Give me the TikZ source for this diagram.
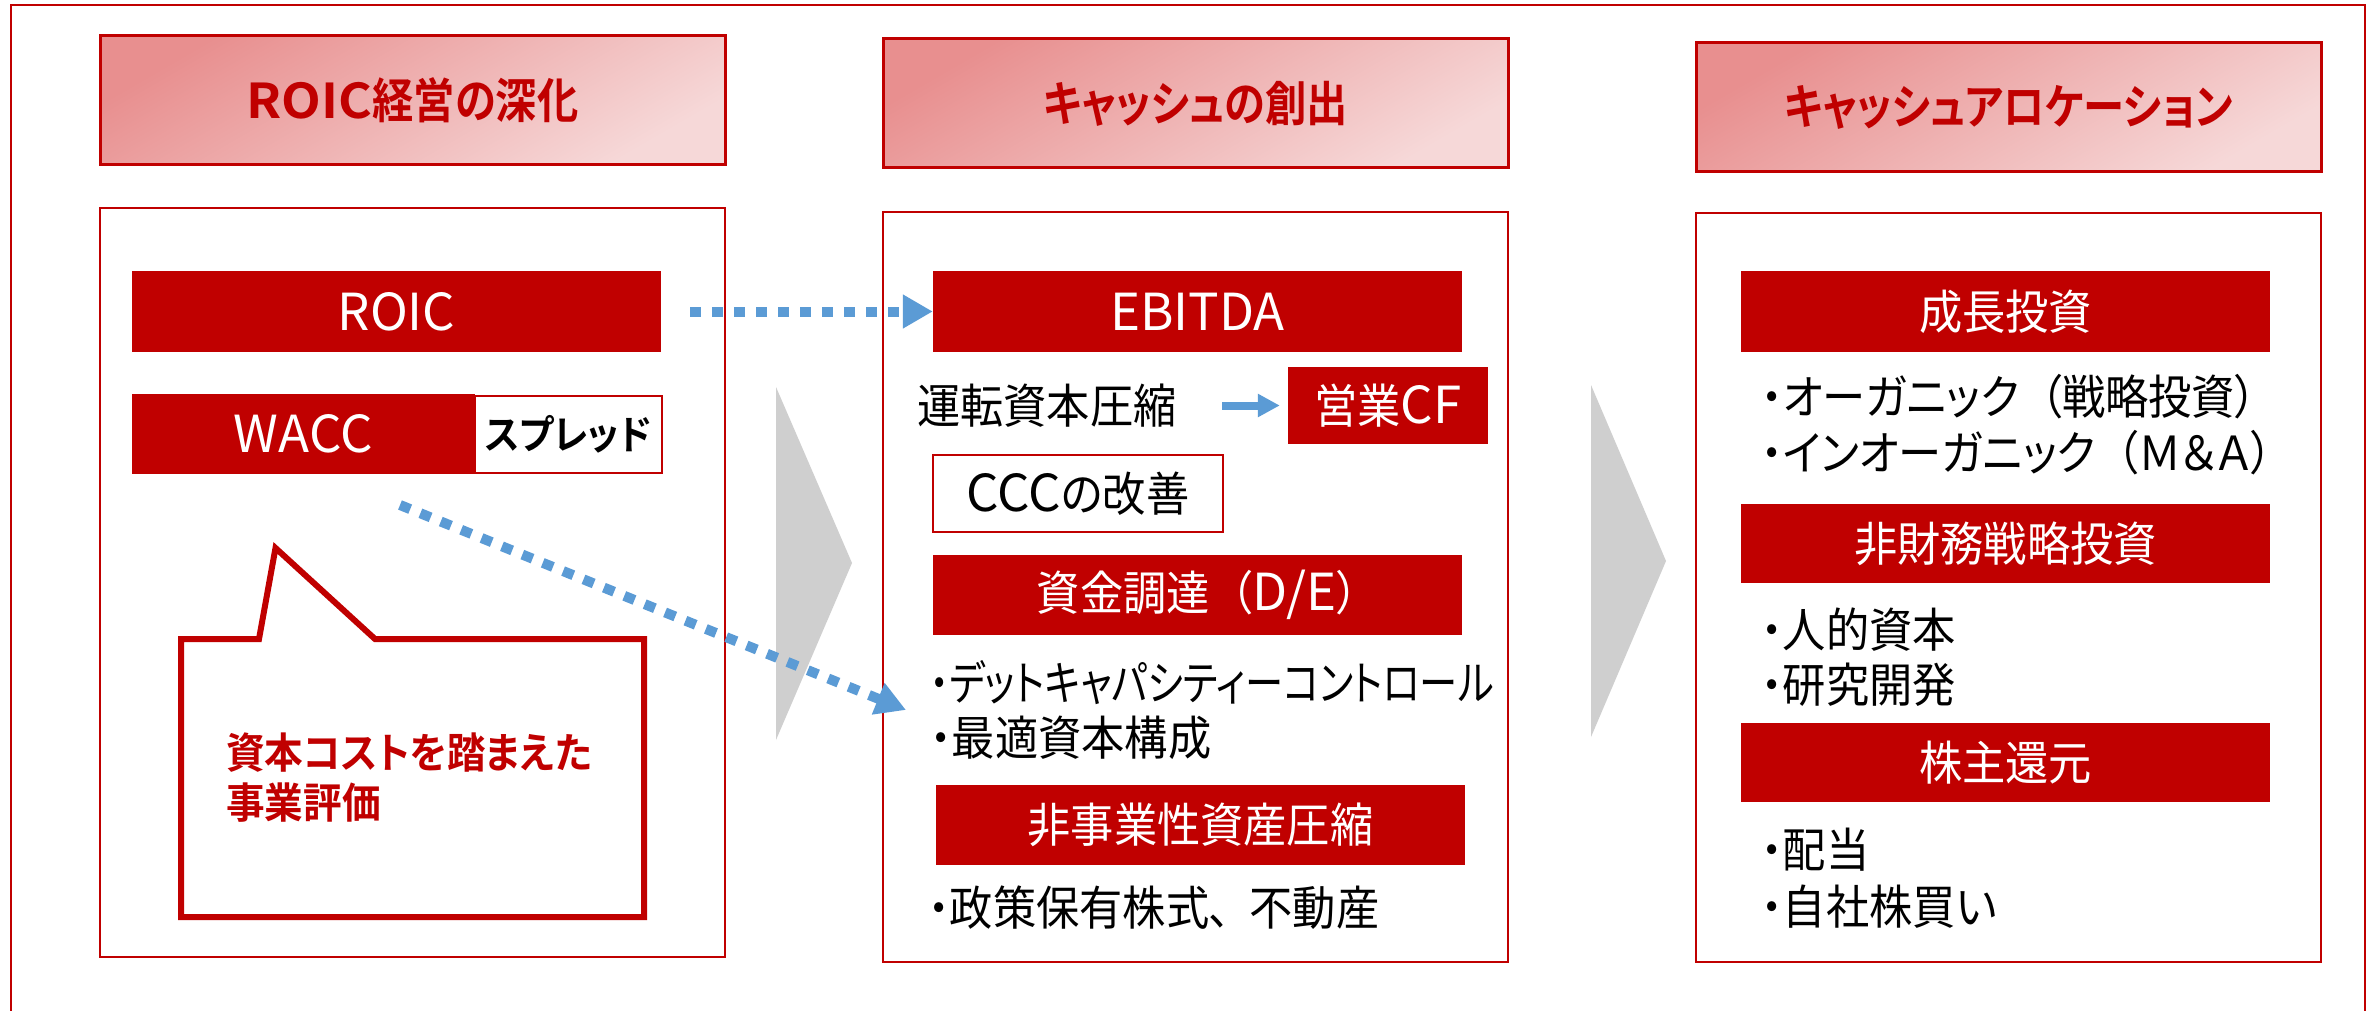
\documentclass[tikz,border=0pt]{standalone}
\usepackage{fontspec}
\setmainfont{Noto Sans CJK JP}[RawFeature=+palt, FakeStretch=0.92, BoldFont={* Bold}]
\newfontfamily\hdrfont{Noto Sans CJK JP Bold}[RawFeature=+palt, FakeStretch=0.86]
\newfontfamily\latfont{Noto Sans CJK JP}
\usetikzlibrary{arrows.meta}
\definecolor{dred}{HTML}{C00000}
\definecolor{hdrtop}{RGB}{232,143,143}
\definecolor{hdrbot}{RGB}{246,216,216}
\definecolor{ablue}{HTML}{5B9BD5}
\definecolor{chevgray}{RGB}{207,207,207}
\newcommand\bodyfs{\fontsize{47}{56}\selectfont}
\newcommand\hdrfs{\hdrfont\fontsize{48}{56}\selectfont}
\newcommand\lat[1]{{\latfont\fontsize{51}{60}\selectfont #1}}
\newcommand\lpar{\hspace{0.45em}（}
\tikzset{
  hdrbox/.style={draw=dred, line width=3pt, top color=hdrtop, bottom color=hdrbot, shading angle=30,
    minimum width=625pt, minimum height=129pt, inner sep=0pt, text=dred, font=\hdrfs},
  colbox/.style={draw=dred, line width=2.5pt, fill=white, minimum width=625pt, inner sep=0pt},
  redbox/.style={fill=dred, text=white, inner sep=0pt, font=\bodyfs},
  wbox/.style={draw=dred, line width=2.5pt, fill=white, inner sep=0pt},
  bodytext/.style={anchor=west, inner sep=0pt, font=\bodyfs, text=black},
  bluedot/.style={draw=ablue, line width=10pt, dash pattern=on 11pt off 11pt,
    -{Triangle[length=30pt,width=32pt]}},
  chev/.style={fill=chevgray},
  frameline/.style={draw=dred, line width=2pt}
}
\begin{document}
\begin{tikzpicture}[x=1pt,y=-1pt]
\useasboundingbox (0,0) rectangle (2377,1011);
\fill[white] (0,0) rectangle (2377,1011);
% outer frame
\draw[frameline] (11,1011) -- (11,5) -- (2365,5) -- (2365,1011);
% headers
\node[hdrbox] (h1) at (412.5,100.5) {\scalebox{1.25}[1]{ROIC}経営の深化};
\node[hdrbox] (h2) at (1195.5,103.5) {キャッシュの創出};
\node[hdrbox] (h3) at (2008.5,107.5) {キャッシュアロケーション};
% column boxes
\node[colbox, minimum height=749pt] (c1) at (412.5,582.5) {};
\node[colbox, minimum height=750pt] (c2) at (1195.5,587) {};
\node[colbox, minimum height=749pt] (c3) at (2008.5,587.5) {};
% chevrons
\fill[chev] (776,387) -- (852,563) -- (776,740) -- cycle;
\fill[chev] (1591,385) -- (1666,561) -- (1591,737) -- cycle;
% column 1
\node[redbox, minimum width=529pt, minimum height=81pt] (roic) at (396.5,311.5) {\lat{ROIC}};
\node[redbox, minimum width=342.5pt, minimum height=80pt] (wacc) at (303.25,434) {\lat{WACC}};
\node[wbox, minimum width=187.5pt, minimum height=77pt, font=\fontsize{40}{48}\selectfont\bfseries] (spread) at (568.25,434.5) {スプレッド};
\draw[draw=dred, fill=white, line width=6pt, line join=miter]
  (181,639) -- (259,639) -- (275.5,548) -- (375,639) -- (644,639) -- (644,917) -- (181,917) -- cycle;
\node[anchor=west, align=left, inner sep=0pt, text=dred, font=\fontsize{42}{50}\selectfont\bfseries] (callout) at (226,778) {資本コストを踏まえた\\事業評価};
% column 2
\node[redbox, minimum width=529pt, minimum height=81pt] (ebitda) at (1197.5,311.5) {\lat{EBITDA}};
\node[bodytext] (unten) at (917,406) {運転資本圧縮};
\node[redbox, minimum width=200pt, minimum height=77pt] (eigyo) at (1388,405.5) {営業\lat{CF}};
\node[wbox, minimum width=290pt, minimum height=77pt, font=\bodyfs] (ccc) at (1078,493.5) {\lat{CCC}の改善};
\node[redbox, minimum width=529pt, minimum height=80pt] (shikin) at (1197.5,595) {資金調達\lpar\lat{D/E}）};
\node[bodytext] (decap) at (930,683) {\scalebox{0.885}[1]{・デットキャパシティーコントロール}};
\node[bodytext] (saiteki) at (930,738) {・最適資本構成};
\node[redbox, minimum width=529pt, minimum height=80pt] (hijigyo) at (1200.5,825) {非事業性資産圧縮};
\node[bodytext] (seisaku) at (928,908) {・政策保有株式、\hspace{0.4em}不動産};
% column 3
\node[redbox, minimum width=529pt, minimum height=81pt] (seicho) at (2005.5,311.5) {成長投資};
\node[bodytext] (organic) at (1761,397) {・オーガニック\lpar 戦略投資）};
\node[bodytext] (inorganic) at (1761,453) {・インオーガニック\lpar Ｍ＆Ａ）};
\node[redbox, minimum width=529pt, minimum height=79pt] (hizaimu) at (2005.5,543.5) {非財務戦略投資};
\node[bodytext] (jinteki) at (1761,630) {・人的資本};
\node[bodytext] (kenkyu) at (1761,685) {・研究開発};
\node[redbox, minimum width=529pt, minimum height=79pt] (kabu) at (2005.5,762.5) {株主還元};
\node[bodytext] (haito) at (1761,850) {・配当};
\node[bodytext] (jisha) at (1761,907) {・自社株買い};
% connectors
\draw[bluedot, shorten <=29pt] (roic) -- (ebitda);
\coordinate (dstart) at (400,505);
\coordinate (dtip) at (906,710);
\draw[bluedot] (dstart) -- (dtip);
\coordinate (sastart) at (1222,405.5);
\draw[draw=ablue, line width=8pt, -{Triangle[length=22pt,width=22pt]}, shorten >=8pt] (sastart) -- (eigyo.west);
\end{tikzpicture}
\end{document}
